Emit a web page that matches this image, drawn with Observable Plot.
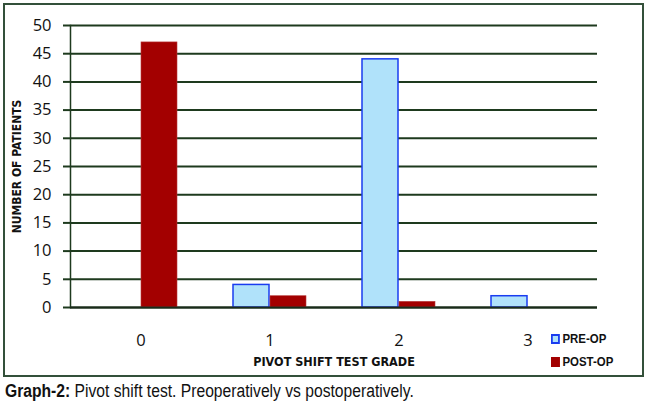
<!DOCTYPE html>
<html>
<head>
<meta charset="utf-8">
<script src="https://cdn.jsdelivr.net/npm/d3@7"></script>
<script src="https://cdn.jsdelivr.net/npm/@observablehq/plot@0.6"></script>
<style>
  html, body { margin: 0; padding: 0; background: #fff; }
  #page { position: relative; width: 650px; height: 414px; overflow: hidden; }
  #border { position: absolute; left: 3px; top: 3px; width: 637px; height: 370px; border: 2px solid #33503a; pointer-events: none; }
  #legend { position: absolute; left: 551px; top: 327px; font-family: "Liberation Sans", Arial, sans-serif; font-weight: bold; font-size: 13px; color: #111; line-height: 23px; }
  #legend .row { transform: scaleX(0.88); transform-origin: left center; white-space: nowrap; }
  #legend .sw { display: inline-block; box-sizing: border-box; width: 10px; height: 10px; margin-right: 3px; vertical-align: -1px; }
  #caption { position: absolute; left: 5px; top: 381px; font-family: "Liberation Sans", Arial, sans-serif; font-size: 18px; color: #111; white-space: nowrap; transform: scaleX(0.87); transform-origin: left center; }
</style>
</head>
<body>
<div id="page">
  <div id="chart"></div>
  <div id="border"></div>
  <div id="legend"></div>
  <div id="caption"><b>Graph-2:</b> Pivot shift test. Preoperatively vs postoperatively.</div>
</div>
<script>
const grades = ["0", "1", "2", "3"];
const series = ["PRE-OP", "POST-OP"];
const preOp = [0, 4, 44, 2];
const postOp = [47, 2, 1, 0];
const yTicks = [0, 5, 10, 15, 20, 25, 30, 35, 40, 45, 50];
const colors = {"PRE-OP": {fill: "#b0e2fa", stroke: "#1a3cf0"}, "POST-OP": {fill: "#a30000", stroke: "#b83a3a"}};

const preData = grades.map((g, i) => ({grade: g, value: preOp[i]})).filter(d => d.value > 0);
const postData = grades.map((g, i) => ({grade: g, value: postOp[i]})).filter(d => d.value > 0);

const gridColor = "#1e3a1e";
const narrowBold = "'Liberation Sans Narrow', 'Arial Narrow', 'DejaVu Sans Condensed', sans-serif";

const chart = Plot.plot({
  width: 650,
  height: 378,
  marginLeft: 70,
  marginRight: 53,
  marginTop: 25,
  marginBottom: 71,
  style: {fontFamily: "'Open Sans', Lato, sans-serif", color: "#111", background: "transparent"},
  x: {domain: grades, paddingInner: 0, paddingOuter: 0.03},
  y: {domain: [0, 50]},
  marks: [
    Plot.ruleY(yTicks, {stroke: gridColor, strokeWidth: 2}),
    Plot.axisY({ticks: yTicks, tickSize: 7, tickPadding: 12, stroke: gridColor, strokeWidth: 2, fontSize: 16.5, fill: "#111", label: null}),
    Plot.frame({anchor: "left", stroke: gridColor, strokeWidth: 1.5}),
    Plot.barY(preData, {x: "grade", y: "value", fill: colors["PRE-OP"].fill, stroke: colors["PRE-OP"].stroke, strokeWidth: 1.5, insetLeft: 28, insetRight: 65}),
    Plot.barY(postData, {x: "grade", y: "value", fill: colors["POST-OP"].fill, stroke: colors["POST-OP"].stroke, strokeWidth: 0.6, insetLeft: 65, insetRight: 28}),
    Plot.ruleY([0], {stroke: "#1a2a1a", strokeWidth: 2}),
    Plot.axisX({tickSize: 0, tickPadding: 27, fontSize: 16.5, fill: "#111", label: null}),
    Plot.text(["PIVOT SHIFT TEST GRADE"], {frameAnchor: "bottom", dy: 58, fontFamily: narrowBold, fontWeight: "bold", fontSize: 12.5, fill: "#111"}),
    Plot.text(["NUMBER OF PATIENTS"], {frameAnchor: "left", textAnchor: "middle", dx: -53, rotate: -90, fontFamily: narrowBold, fontWeight: "bold", fontSize: 12, fill: "#111"})
  ]
});
document.getElementById("chart").appendChild(chart);

const legend = document.getElementById("legend");
series.forEach(s => {
  const row = document.createElement("div");
  row.className = "row";
  const sw = document.createElement("span");
  sw.className = "sw";
  sw.style.background = colors[s].fill;
  sw.style.border = s === "PRE-OP" ? "2px solid " + colors[s].stroke : "1px solid " + colors[s].fill;
  row.appendChild(sw);
  row.appendChild(document.createTextNode(s));
  legend.appendChild(row);
});
</script>
</body>
</html>
